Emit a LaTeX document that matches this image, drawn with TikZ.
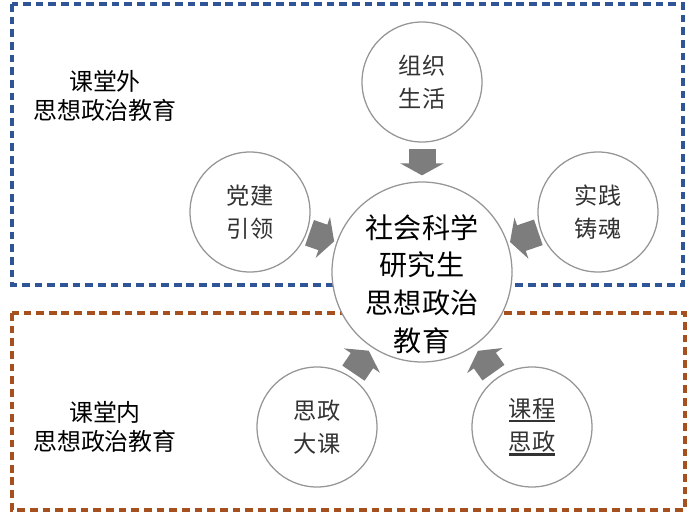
\documentclass[tikz,border=0pt]{standalone}
\usepackage{fontspec}
\newfontfamily\cjk{Noto Sans CJK SC}
\usetikzlibrary{arrows.meta}
\definecolor{zoneblue}{RGB}{47,85,151}
\definecolor{zonebrown}{RGB}{165,80,30}
\definecolor{ringgray}{RGB}{150,150,150}
\definecolor{flowgray}{RGB}{125,125,125}
\newcommand{\ulline}[1]{\vtop{\hbox{#1}\kern0.6pt\hrule height 1.5pt}}

\begin{document}
\begin{tikzpicture}[font=\cjk,
  zone/.style={line width=2.2pt,dash pattern=on 5.5pt off 3.5pt},
  topic/.style={circle,draw=ringgray,line width=0.9pt,fill=white,minimum size=3cm,align=center,text=black!80,font=\cjk\fontsize{16.5}{23.5}\selectfont},
  core/.style={circle,draw=ringgray,line width=0.9pt,fill=white,minimum size=4.5cm,inner sep=0pt},
  coretext/.style={align=center,font=\cjk\fontsize{20}{26.9}\selectfont},
  flow/.style={flowgray,line width=0.675cm,-{Triangle[width=1.075cm,length=0.3cm]}},
  side/.style={align=center,font=\cjk\fontsize{17}{21}\selectfont}]
\useasboundingbox (0,0) rectangle (17.25,-12.9);
% the two dashed areas
\draw[zone,zoneblue] (0.3,-0.1) rectangle (17.075,-7.125);
\draw[zone,zonebrown] (0.3,-7.825) rectangle (17.125,-12.75);
\node[side] (outlbl) at (2.625,-2.4) {课堂外\\思想政治教育};
\node[side] (inlbl) at (2.625,-10.675) {课堂内\\思想政治教育};
% circles
\node[core] (hub) at (10.55,-6.8) {};
\node[coretext] (hubtxt) at ([yshift=-0.3cm]hub.center) {社会科学\\研究生\\思想政治\\教育};
\node[topic] (zzsh) at (10.55,-2.05) {组织\\生活};
\node[topic] (djyl) at (6.25,-5.3) {党建\\引领};
\node[topic] (sjzh) at (14.95,-5.3) {实践\\铸魂};
\node[topic] (szdk) at (7.925,-10.675) {思政\\大课};
\node[topic] (kcsz) at (13.3,-10.675) {\ulline{课程}\\\ulline{思政}};
% arrows into the hub
\draw[flow,shorten <=0.15cm,shorten >=0.15cm] (zzsh) -- (hub);
\draw[flow,shorten <=0.06cm,shorten >=0.06cm] (djyl) -- (hub);
\draw[flow,shorten <=0.06cm,shorten >=0.06cm] (sjzh) -- (hub);
\draw[flow,shorten <=0.11cm,shorten >=0.11cm] (szdk) -- (hub);
\draw[flow,shorten <=0.15cm,shorten >=0.15cm] (kcsz) -- (hub);
\end{tikzpicture}
\end{document}
